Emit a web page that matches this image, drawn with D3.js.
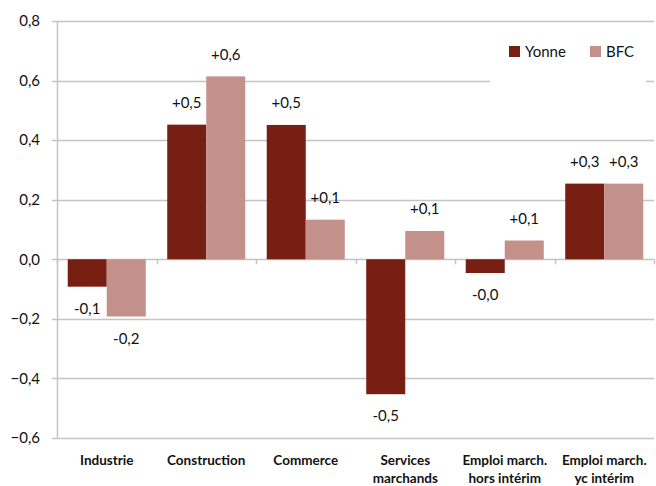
<!DOCTYPE html>
<html>
<head>
<meta charset="utf-8">
<script src="https://cdn.jsdelivr.net/npm/d3@7"></script>
<style>
  body { margin: 0; background: #fff; }
  svg { display: block; font-family: Lato, 'Open Sans', sans-serif; }
</style>
</head>
<body>
<svg id="chart" width="656" height="486"></svg>
<script>
// données
const categories = [
  ['Industrie'],
  ['Construction'],
  ['Commerce'],
  ['Services', 'marchands'],
  ['Emploi march.', 'hors intérim'],
  ['Emploi march.', 'yc intérim']
]
const seriesNames = ['Yonne', 'BFC']
const yonne = [-0.092, 0.452, 0.451, -0.453, -0.046, 0.254]
const bfc = [-0.192, 0.614, 0.133, 0.095, 0.063, 0.254]
const yTicks = [-0.6, -0.4, -0.2, 0, 0.2, 0.4, 0.6, 0.8]

const colors = ['#761f12', '#c3908a']
const gridColor = '#c4c4c4'

const margin = { top: 21, left: 57, right: 2, bottom: 48 }
const width = 656
const height = 486

const svg = d3.select('#chart')

const x = d3.scaleBand()
  .domain(d3.range(categories.length))
  .range([margin.left, width - margin.right])

const xInner = d3.scaleBand()
  .domain(seriesNames)
  .range([0, x.bandwidth()])
  .paddingOuter(0.275)

const y = d3.scaleLinear()
  .domain([-0.6, 0.8])
  .range([height - margin.bottom, margin.top])

const fmt = v => (v < 0 ? '-' : '+') + d3.format('.1f')(Math.abs(v)).replace('.', ',')

// grille
svg.append('g')
  .selectAll('line')
  .data(yTicks)
  .enter().append('line')
  .attr('x1', margin.left - 5)
  .attr('x2', width - margin.right)
  .attr('y1', d => Math.round(y(d)) + 0.5)
  .attr('y2', d => Math.round(y(d)) + 0.5)
  .attr('stroke', gridColor)
  .attr('stroke-width', 1.5)

// axe Y
svg.append('line')
  .attr('x1', margin.left + 0.5)
  .attr('x2', margin.left + 0.5)
  .attr('y1', y(0.8))
  .attr('y2', y(-0.6))
  .attr('stroke', gridColor)
  .attr('stroke-width', 1.5)

svg.append('g')
  .selectAll('text')
  .data(yTicks)
  .enter().append('text')
  .attr('x', 40)
  .attr('y', d => y(d))
  .attr('dy', '0.35em')
  .attr('text-anchor', 'end')
  .style('font-size', '15px')
  .attr('fill', '#111')
  .text(d => d3.format('.1f')(d).replace('.', ','))

// legende (fond blanc)
svg.append('rect')
  .attr('x', 490)
  .attr('y', 24)
  .attr('width', 156)
  .attr('height', 62)
  .attr('fill', '#fff')

// barres
const groups = svg.append('g')
  .selectAll('g')
  .data(categories.map((c, i) => ({ i, values: [yonne[i], bfc[i]] })))
  .enter().append('g')
  .attr('transform', d => `translate(${x(d.i)},0)`)

groups.selectAll('rect')
  .data(d => d.values.map((v, k) => ({ v, name: seriesNames[k], k })))
  .enter().append('rect')
  .attr('x', d => xInner(d.name))
  .attr('width', xInner.bandwidth())
  .attr('y', d => y(Math.max(0, d.v)))
  .attr('height', d => Math.abs(y(d.v) - y(0)))
  .attr('fill', d => colors[d.k])

groups.selectAll('text')
  .data(d => d.values.map((v, k) => ({ v, name: seriesNames[k], k })))
  .enter().append('text')
  .attr('x', d => xInner(d.name) + xInner.bandwidth() / 2)
  .attr('y', d => d.v >= 0 ? y(d.v) - 22 : y(d.v) + 22)
  .attr('dy', '0.35em')
  .attr('text-anchor', 'middle')
  .style('font-size', '15px')
  .attr('fill', '#111')
  .text(d => fmt(d.v))

// ticks categories sur la ligne zero
svg.append('g')
  .selectAll('line')
  .data(d3.range(categories.length + 1))
  .enter().append('line')
  .attr('x1', i => Math.round(margin.left + i * x.step()) + 0.5)
  .attr('x2', i => Math.round(margin.left + i * x.step()) + 0.5)
  .attr('y1', y(0))
  .attr('y2', y(0) + 5)
  .attr('stroke', gridColor)
  .attr('stroke-width', 1.5)

// libelles categories
const catLabels = svg.append('g')
  .selectAll('text')
  .data(categories)
  .enter().append('text')
  .attr('x', (d, i) => x(i) + x.bandwidth() / 2)
  .attr('y', 465)
  .attr('text-anchor', 'middle')
  .style('font-size', '13.5px')
  .style('font-weight', 'bold')
  .attr('fill', '#111')

catLabels.selectAll('tspan')
  .data(d => d)
  .enter().append('tspan')
  .attr('x', function () { return this.parentNode.getAttribute('x') })
  .attr('dy', (d, i) => i === 0 ? 0 : 18)
  .text(d => d)

// legende
const legend = svg.append('g')
const legendX = [509, 590]
seriesNames.forEach((name, k) => {
  legend.append('rect')
    .attr('x', legendX[k])
    .attr('y', 46)
    .attr('width', 11)
    .attr('height', 11)
    .attr('fill', colors[k])
  legend.append('text')
    .attr('x', legendX[k] + 16)
    .attr('y', 51.5)
    .attr('dy', '0.35em')
    .style('font-size', '15px')
    .attr('fill', '#111')
    .text(name)
})
</script>
</body>
</html>
